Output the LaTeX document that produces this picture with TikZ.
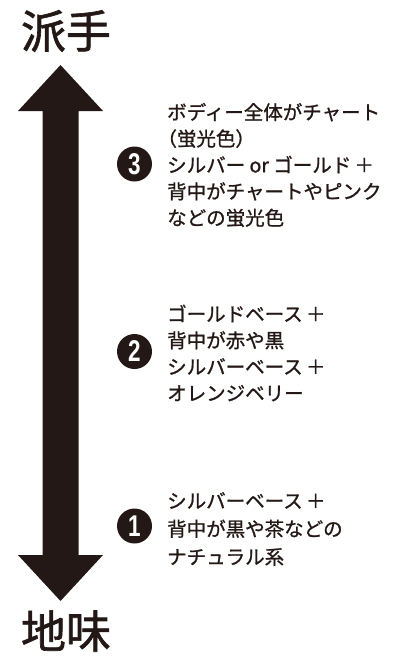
\documentclass[tikz,border=0pt]{standalone}
\usepackage{fontspec}
\setmainfont{Noto Sans CJK JP}[FakeBold=1.0]
\newfontfamily\titlefont{Noto Sans CJK JP}[FakeBold=1.4]
\newfontfamily\digitfont{Liberation Sans}
\definecolor{ink}{HTML}{231815}
\newcommand{\lpar}{\makebox[0.5em][r]{（}}
\newcommand{\rpar}{\makebox[0.5em][l]{）}}
\begin{document}
\begin{tikzpicture}[x=1pt,y=-1pt,
  title/.style={font=\titlefont\fontsize{45}{45}\selectfont, text=ink, inner sep=0pt},
  desc/.style={font=\fontsize{19.5}{26.4}\selectfont, text=ink, align=left, anchor=west, inner sep=0pt},
  numdot/.style={circle, fill=ink, minimum size=35pt, inner sep=0pt, text=white, font=\digitfont\bfseries\fontsize{30}{30}\selectfont}
]
\useasboundingbox (0,0) rectangle (401,667);
% double arrow
\fill[ink] (60.5,65) -- (103,111) -- (78.5,111) -- (78.5,555) -- (103,555) -- (60.5,601)
  -- (18,555) -- (42.5,555) -- (42.5,111) -- (18,111) -- cycle;
\node[title] (top) at (66,31) {派手};
\node[title] (bottom) at (66,631) {地味};
% level 3
\node[numdot] (n3) at (134.5,164) {\scalebox{0.75}[1]{3}};
\node[desc] (t3) at (167,165) {ボディー全体がチャート\\\lpar 蛍光色\rpar\\シルバー or ゴールド\,＋\\背中がチャートやピンク\\などの蛍光色};
% level 2
\node[numdot] (n2) at (134.5,351.5) {\scalebox{0.75}[1]{2}};
\node[desc] (t2) at (167,353) {ゴールドベース\,＋\\背中が赤や黒\\シルバーベース\,＋\\オレンジベリー};
% level 1
\node[numdot] (n1) at (134.5,526) {\scalebox{0.75}[1]{1}};
\node[desc, font=\fontsize{19.5}{28}\selectfont] (t1) at (167,529) {シルバーベース\,＋\\背中が黒や茶などの\\ナチュラル系};
\end{tikzpicture}
\end{document}
